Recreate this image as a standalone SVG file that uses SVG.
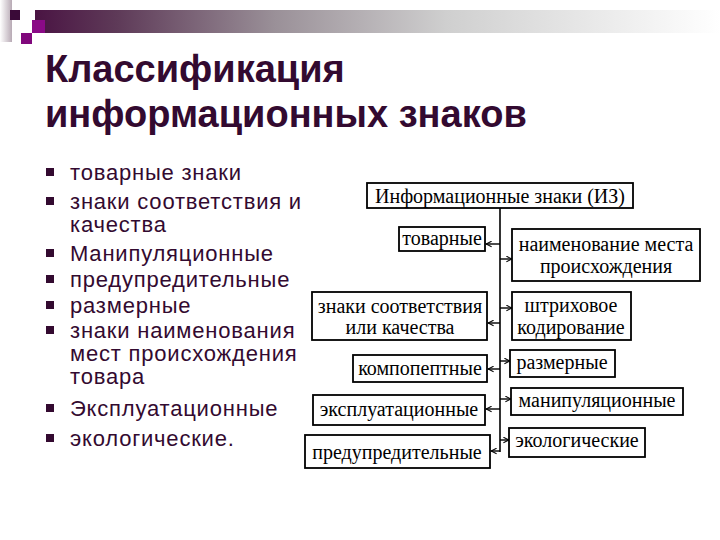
<svg xmlns="http://www.w3.org/2000/svg" width="720" height="540" viewBox="0 0 720 540">
<defs>
<linearGradient id="bar" x1="0" y1="0" x2="1" y2="0">
<stop offset="0" stop-color="#4a1443"/>
<stop offset="0.12" stop-color="#5e3a58"/>
<stop offset="0.35" stop-color="#9a9098"/>
<stop offset="0.6" stop-color="#cfcfcf"/>
<stop offset="1" stop-color="#ffffff"/>
</linearGradient>
<linearGradient id="side" x1="0" y1="0" x2="1" y2="0">
<stop offset="0" stop-color="#ffffff"/>
<stop offset="1" stop-color="#b8aab5"/>
</linearGradient>
<marker id="ah" viewBox="0 0 10 10" refX="9" refY="5" markerWidth="7" markerHeight="7" orient="auto" markerUnits="userSpaceOnUse">
<path d="M1,1 L9,5 L1,9" fill="none" stroke="#000" stroke-width="1.5"/>
</marker>
<style>
.title{font-family:"Liberation Sans",Arial,sans-serif;font-weight:bold;font-size:38px;fill:#330a30}
.li{font-family:"Liberation Sans",Arial,sans-serif;font-size:22px;letter-spacing:0.8px;fill:#330a30}
.bul{fill:#330a30}
.box{fill:#fff;stroke:#000;stroke-width:1.8}
.lbl{font-family:"Liberation Serif","Times New Roman",serif;font-size:20px;fill:#000;text-anchor:middle}
.con{stroke:#000;stroke-width:1.6;fill:none}
.arr{stroke:#000;stroke-width:1.4;fill:none;marker-end:url(#ah)}
</style>
</defs>
<rect width="720" height="540" fill="#fff"/>
<g id="decor">
<rect x="0" y="0" width="12" height="42" fill="url(#side)"/>
<rect x="35" y="10" width="685" height="23" fill="url(#bar)"/>
<rect x="10" y="10" width="10" height="10" fill="#3a0a38"/>
<rect x="32" y="20" width="13" height="13" fill="#8a0a86"/>
<rect x="21" y="33" width="11" height="11" fill="#80087c"/>
</g>
<g id="title">
<text class="title" x="45" y="82">Классификация</text>
<text class="title" x="45" y="127">информационных знаков</text>
</g>
<g id="list">
<rect class="bul" x="46" y="168" width="8" height="8"/>
<text class="li" x="70" y="180">товарные знаки</text>
<rect class="bul" x="46" y="197" width="8" height="8"/>
<text class="li" x="70" y="209">знаки соответствия и</text>
<text class="li" x="70" y="232">качества</text>
<rect class="bul" x="46" y="249" width="8" height="8"/>
<text class="li" x="70" y="261">Манипуляционные</text>
<rect class="bul" x="46" y="275" width="8" height="8"/>
<text class="li" x="70" y="287">предупредительные</text>
<rect class="bul" x="46" y="301" width="8" height="8"/>
<text class="li" x="70" y="313"> размерные</text>
<rect class="bul" x="46" y="326" width="8" height="8"/>
<text class="li" x="70" y="338">знаки наименования</text>
<text class="li" x="70" y="361">мест происхождения</text>
<text class="li" x="70" y="384">товара</text>
<rect class="bul" x="46" y="404" width="8" height="8"/>
<text class="li" x="70" y="416">Эксплуатационные</text>
<rect class="bul" x="46" y="434" width="8" height="8"/>
<text class="li" x="70" y="446">экологические.</text>
</g>
<rect x="304" y="172" width="402" height="302" fill="#fff"/>
<g id="connectors">
<line class="con" x1="500" y1="208" x2="500" y2="452"/>
<line class="arr" x1="500" y1="244" x2="486" y2="244"/>
<line class="arr" x1="500" y1="323" x2="488" y2="323"/>
<line class="arr" x1="500" y1="369" x2="488" y2="369"/>
<line class="arr" x1="500" y1="409" x2="486" y2="409"/>
<line class="arr" x1="500" y1="451" x2="491" y2="451"/>
<line class="arr" x1="500" y1="259" x2="512" y2="259"/>
<line class="arr" x1="500" y1="308" x2="512" y2="308"/>
<line class="arr" x1="500" y1="361" x2="510" y2="361"/>
<line class="arr" x1="500" y1="399" x2="511" y2="399"/>
<line class="arr" x1="500" y1="440" x2="509" y2="440"/>
</g>
<g id="root">
<rect class="box" x="367" y="183" width="266" height="25"/>
<text class="lbl" x="500" y="203">Информационные знаки (ИЗ)</text>
</g>
<g id="tovarnye">
<rect class="box" x="399" y="227" width="86" height="24"/>
<text class="lbl" x="442" y="245">товарные</text>
</g>
<g id="naimenovanie">
<rect class="box" x="512" y="229" width="188" height="52"/>
<text class="lbl" x="606" y="251">наименование места</text>
<text class="lbl" x="606" y="273">происхождения</text>
</g>
<g id="sootvetstvie">
<rect class="box" x="312" y="292" width="175" height="48"/>
<text class="lbl" x="400" y="313">знаки соответствия</text>
<text class="lbl" x="400" y="334">или качества</text>
</g>
<g id="shtrih">
<rect class="box" x="512" y="292" width="119" height="48"/>
<text class="lbl" x="571" y="312">штриховое</text>
<text class="lbl" x="571" y="334">кодирование</text>
</g>
<g id="komponent">
<rect class="box" x="353" y="355" width="134" height="27"/>
<text class="lbl" x="420" y="375">компопептные</text>
</g>
<g id="razmer">
<rect class="box" x="510" y="350" width="105" height="27"/>
<text class="lbl" x="562" y="369">размерные</text>
</g>
<g id="ekspl">
<rect class="box" x="313" y="395" width="172" height="30"/>
<text class="lbl" x="399" y="416">эксплуатационные</text>
</g>
<g id="manip">
<rect class="box" x="511" y="388" width="172" height="27"/>
<text class="lbl" x="597" y="407">манипуляционные</text>
</g>
<g id="predupr">
<rect class="box" x="305" y="435" width="185" height="33"/>
<text class="lbl" x="397" y="459">предупредительные</text>
</g>
<g id="ekolog">
<rect class="box" x="509" y="428" width="136" height="29"/>
<text class="lbl" x="577" y="447">экологические</text>
</g>
</svg>
